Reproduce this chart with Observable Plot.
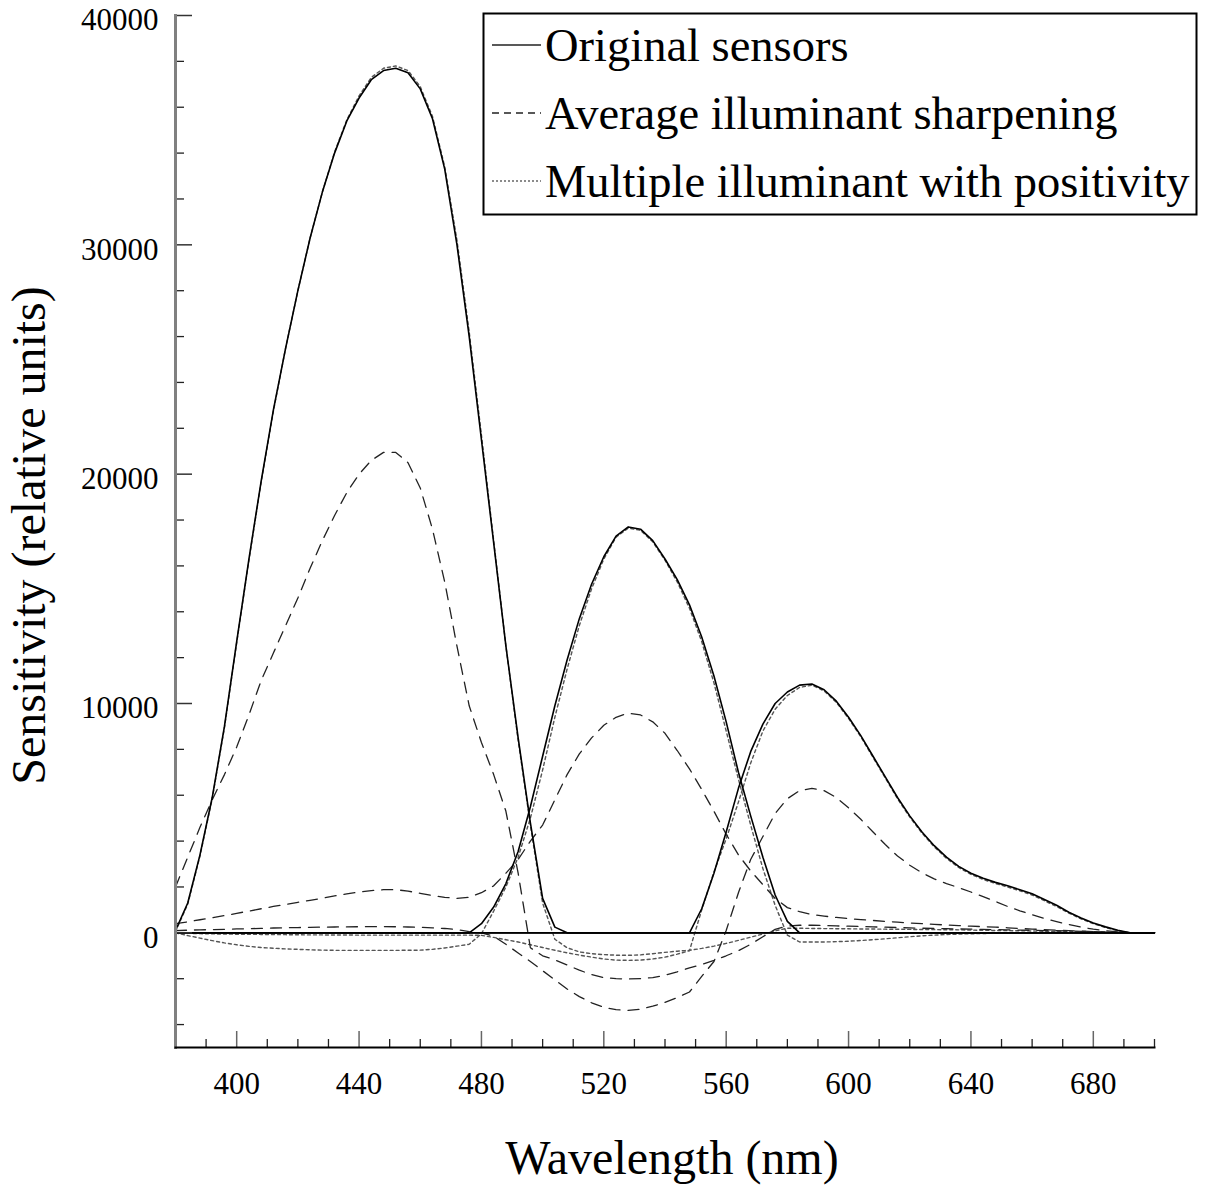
<!DOCTYPE html>
<html>
<head>
<meta charset="utf-8">
<script src="https://cdn.jsdelivr.net/npm/d3@7"></script>
<script src="https://cdn.jsdelivr.net/npm/@observablehq/plot@0.6"></script>
<style>
  body { margin: 0; background: #fff; }
  #chart { width: 1209px; height: 1193px; }
</style>
</head>
<body>
<div id="chart"></div>
<script>
// Sampling grid (nm), 4 nm steps
const wavelength = [
  380, 384, 388, 392, 396, 400, 404, 408, 412, 416, 420, 424, 428, 432, 436, 440, 444, 448, 452, 456,
  460, 464, 468, 472, 476, 480, 484, 488, 492, 496, 500, 504, 508, 512, 516, 520, 524, 528, 532, 536,
  540, 544, 548, 552, 556, 560, 564, 568, 572, 576, 580, 584, 588, 592, 596, 600, 604, 608, 612, 616,
  620, 624, 628, 632, 636, 640, 644, 648, 652, 656, 660, 664, 668, 672, 676, 680, 684, 688, 692, 696, 700
];

// Original sensors
const originalBlue = [
  100, 1300, 3400, 5900, 9000, 12700, 16300, 19700, 22800, 25500, 28000, 30300, 32300, 34000, 35400, 36400, 37200, 37600, 37700, 37500,
  36800, 35500, 33300, 30000, 26000, 21500, 17000, 12500, 8500, 4800, 1500, 250, 0, 0, 0, 0, 0, 0, 0, 0,
  0, 0, 0, 0, 0, 0, 0, 0, 0, 0, 0, 0, 0, 0, 0, 0, 0, 0, 0, 0,
  0, 0, 0, 0, 0, 0, 0, 0, 0, 0, 0, 0, 0, 0, 0, 0, 0, 0, 0, 0, 0
];
const originalGreen = [
  0, 0, 0, 0, 0, 0, 0, 0, 0, 0, 0, 0, 0, 0, 0, 0, 0, 0, 0, 0,
  0, 0, 0, 0, 0, 400, 1125, 2150, 3550, 5500, 7700, 9900, 11900, 13700, 15200, 16400, 17300, 17700, 17600, 17100,
  16300, 15400, 14300, 12900, 11200, 9200, 7000, 5100, 3300, 1650, 500, 0, 0, 0, 0, 0, 0, 0, 0, 0,
  0, 0, 0, 0, 0, 0, 0, 0, 0, 0, 0, 0, 0, 0, 0, 0, 0, 0, 0, 0, 0
];
const originalRed = [
  0, 0, 0, 0, 0, 0, 0, 0, 0, 0, 0, 0, 0, 0, 0, 0, 0, 0, 0, 0,
  0, 0, 0, 0, 0, 0, 0, 0, 0, 0, 0, 0, 0, 0, 0, 0, 0, 0, 0, 0,
  0, 0, 0, 1050, 2600, 4400, 6300, 7900, 9100, 10000, 10500, 10800, 10850, 10600, 10100, 9400, 8600, 7700, 6800, 5900,
  5100, 4400, 3800, 3300, 2900, 2600, 2380, 2200, 2050, 1880, 1700, 1450, 1200, 900, 650, 430, 260, 110, 0, 0, 0
];

// Average illuminant sharpening
const averageBlue = [
  2000, 3300, 4600, 5800, 6900, 8100, 9500, 11000, 12200, 13400, 14600, 15900, 17100, 18200, 19200, 20000, 20600, 20950, 20950, 20500,
  19400, 17600, 15300, 12500, 9900, 8300, 6900, 5300, 2600, -650, -1000, -1180, -1400, -1630, -1820, -1950, -2000, -2010, -2000, -1950,
  -1850, -1700, -1530, -1380, -1200, -1000, -780, -500, -170, 150, 300, 330, 330, 320, 300, 290, 275, 260, 245, 230,
  215, 200, 190, 180, 170, 160, 150, 140, 130, 120, 110, 100, 90, 80, 65, 50, 35, 20, 10, 0, 0
];
const averageGreen = [
  400, 480, 570, 660, 750, 850, 950, 1050, 1150, 1240, 1330, 1420, 1510, 1610, 1700, 1780, 1840, 1880, 1880, 1820,
  1720, 1630, 1550, 1500, 1550, 1750, 2050, 2600, 3200, 4000, 4700, 5800, 6900, 7800, 8500, 9050, 9400, 9580, 9500, 9200,
  8700, 7950, 7150, 6250, 5300, 4300, 3400, 2700, 2100, 1500, 1100, 920, 800, 730, 670, 620, 575, 540, 500, 465,
  430, 400, 370, 340, 315, 290, 270, 250, 220, 190, 165, 140, 120, 100, 75, 50, 30, 15, 5, 0, 0
];
const averageRed = [
  100, 115, 130, 140, 155, 170, 180, 195, 210, 220, 230, 240, 250, 255, 260, 265, 270, 270, 265, 255,
  240, 220, 190, 140, 50, 0, -150, -500, -880, -1250, -1650, -2050, -2450, -2780, -3050, -3250, -3350, -3380, -3330, -3200,
  -3030, -2820, -2580, -1900, -1250, 100, 1750, 3200, 4200, 5200, 5850, 6200, 6300, 6200, 5900, 5450, 4950, 4400, 3850, 3350,
  2950, 2620, 2350, 2150, 1970, 1780, 1580, 1370, 1150, 960, 790, 630, 490, 360, 250, 160, 90, 40, 10, 0, 0
];

// Multiple illuminant with positivity
const multipleBlue = [
  50, 1250, 3350, 5850, 8950, 12650, 16250, 19650, 22750, 25500, 28000, 30300, 32300, 34050, 35450, 36500, 37300, 37700, 37800, 37600,
  36900, 35600, 33400, 30200, 26200, 21700, 17100, 12500, 8400, 4700, 1300, -280, -650, -830, -910, -950, -975, -980, -960, -910,
  -850, -800, -760, -680, -580, -460, -330, -190, -50, 90, 200, 200, 190, 185, 180, 175, 170, 165, 160, 155,
  150, 145, 140, 135, 130, 120, 110, 100, 95, 90, 80, 70, 60, 50, 40, 30, 20, 10, 5, 0, 0
];
const multipleGreen = [
  0, -120, -230, -340, -440, -520, -590, -640, -670, -700, -720, -740, -755, -763, -765, -765, -765, -765, -765, -760,
  -755, -720, -660, -580, -500, -40, 950, 2000, 3300, 5000, 7100, 9400, 11500, 13400, 15000, 16300, 17250, 17650, 17550, 17050,
  16250, 15300, 14150, 12700, 10900, 8800, 6700, 4700, 2800, 1200, -100, -400, -400, -400, -385, -365, -335, -300, -260, -215,
  -170, -130, -100, -75, -55, -40, -30, -20, -15, -10, -5, 0, 0, 0, 0, 0, 0, 0, 0, 0, 0
];
const multipleRed = [
  0, -20, -35, -45, -55, -60, -65, -70, -75, -80, -85, -90, -90, -95, -95, -100, -100, -100, -100, -100,
  -100, -100, -100, -100, -100, -110, -200, -300, -400, -520, -640, -760, -870, -970, -1060, -1140, -1190, -1200, -1190, -1140,
  -1060, -930, -780, 1000, 2650, 4100, 5700, 7400, 8800, 9750, 10350, 10700, 10800, 10550, 10050, 9350, 8550, 7650, 6750, 5850,
  5050, 4350, 3750, 3250, 2850, 2550, 2330, 2150, 2000, 1830, 1650, 1400, 1150, 860, 610, 400, 230, 90, 0, 0, 0
];

const seriesNames = ["Original sensors", "Average illuminant sharpening", "Multiple illuminant with positivity"];

// Axis ticks
const yMajorTicks = [0, 10000, 20000, 30000, 40000];
const yMinorTicks = [-4000, -2000, 2000, 4000, 6000, 8000, 12000, 14000, 16000, 18000, 22000, 24000, 26000, 28000, 32000, 34000, 36000, 38000];
const xMajorTicks = [400, 440, 480, 520, 560, 600, 640, 680];
const xMinorTicks = [380, 390, 410, 420, 430, 450, 460, 470, 490, 500, 510, 530, 540, 550, 570, 580, 590, 610, 620, 630, 650, 660, 670, 690, 700];

const curves = [
  [seriesNames[0], "blue", originalBlue], [seriesNames[0], "green", originalGreen], [seriesNames[0], "red", originalRed],
  [seriesNames[1], "blue", averageBlue], [seriesNames[1], "green", averageGreen], [seriesNames[1], "red", averageRed],
  [seriesNames[2], "blue", multipleBlue], [seriesNames[2], "green", multipleGreen], [seriesNames[2], "red", multipleRed]
];
const rows = [];
for (const [series, channel, values] of curves) {
  values.forEach((v, i) => rows.push({series, channel, wavelength: wavelength[i], value: v}));
}

const lineStyle = {
  [seriesNames[0]]: {stroke: "#000", strokeWidth: 1.6, strokeDasharray: null},
  [seriesNames[1]]: {stroke: "#222", strokeWidth: 1.3, strokeDasharray: "11,8"},
  [seriesNames[2]]: {stroke: "#555", strokeWidth: 1.4, strokeDasharray: "3,3"}
};

const font = "Liberation Serif, Times New Roman, serif";
const W = 1209, H = 1193;
const mL = 175, mR = 55, mT = 15, mB = 146;
const frameW = W - mL - mR, frameH = H - mT - mB;

const seriesLine = (name) => Plot.line(rows.filter(d => d.series === name), {
  x: "wavelength", y: "value", z: "channel",
  stroke: lineStyle[name].stroke,
  strokeWidth: lineStyle[name].strokeWidth,
  strokeDasharray: lineStyle[name].strokeDasharray
});

const chart = Plot.plot({
  width: W, height: H,
  marginLeft: mL, marginRight: mR, marginTop: mT, marginBottom: mB,
  style: {fontFamily: font, background: "#fff", color: "#000"},
  x: {domain: [380, 700], axis: null},
  y: {domain: [-5000, 40000], axis: null},
  marks: [
    Plot.ruleY([0], {stroke: "#000", strokeWidth: 1.4}),
    seriesLine(seriesNames[2]),
    seriesLine(seriesNames[1]),
    seriesLine(seriesNames[0]),
    // inward-pointing ticks
    Plot.tickY(yMinorTicks, {y: d => d, insetRight: frameW - 9, stroke: "#222", strokeWidth: 1.3}),
    Plot.tickY(yMajorTicks, {y: d => d, insetRight: frameW - 17, stroke: "#333", strokeWidth: 1.5}),
    Plot.tickX(xMinorTicks, {x: d => d, insetTop: frameH - 8, stroke: "#222", strokeWidth: 1.3}),
    Plot.tickX(xMajorTicks, {x: d => d, insetTop: frameH - 16, stroke: "#666", strokeWidth: 1.5}),
    Plot.frame({anchor: "left", stroke: "#808080", strokeWidth: 3}),
    Plot.frame({anchor: "bottom", stroke: "#000", strokeWidth: 2}),
    Plot.axisY(yMajorTicks, {tickSize: 0, tickPadding: 17, dy: 5, fontSize: 31, fontFamily: font, tickFormat: d3.format("d"), label: null}),
    Plot.axisX(xMajorTicks, {tickSize: 0, tickPadding: 24, fontSize: 31, fontFamily: font, tickFormat: d3.format("d"), label: null}),
    Plot.text(["Wavelength (nm)"], {frameAnchor: "bottom", textAnchor: "middle", lineAnchor: "bottom", dx: 7, dy: 126, fontSize: 48, fontFamily: font, fill: "#000"}),
    Plot.text(["Sensitivity (relative units)"], {frameAnchor: "left", textAnchor: "middle", lineAnchor: "middle", rotate: -90, dx: -146, dy: 4, fontSize: 48, fontFamily: font, fill: "#000"})
  ]
});

// Legend box in the upper right of the plotting area
const svg = d3.select(chart);
const legend = svg.append("g")
  .attr("font-family", font)
  .attr("text-anchor", "start");
legend.append("rect")
  .attr("x", 483.5).attr("y", 13.5).attr("width", 713).attr("height", 201)
  .attr("fill", "#fff").attr("stroke", "#000").attr("stroke-width", 2);
const legendDash = [null, "7,5", "2,2"];
seriesNames.forEach((name, i) => {
  const cy = 45 + i * 68;
  legend.append("line")
    .attr("x1", 492).attr("x2", 541).attr("y1", cy).attr("y2", cy)
    .attr("stroke", i === 2 ? "#666" : "#222")
    .attr("stroke-width", 1.4)
    .attr("stroke-dasharray", legendDash[i]);
  legend.append("text")
    .attr("x", 545).attr("y", cy + 16)
    .attr("font-size", 46.5).attr("fill", "#000")
    .attr("text-anchor", "start")
    .text(name);
});

document.getElementById("chart").appendChild(chart);
</script>
</body>
</html>
